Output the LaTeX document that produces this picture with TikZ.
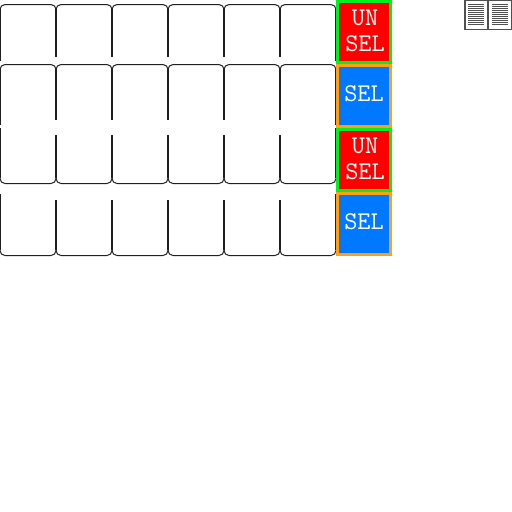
\documentclass[tikz,border=0pt]{standalone}
\definecolor{unselred}{RGB}{255,0,0}
\definecolor{unselgreen}{RGB}{0,240,30}
\definecolor{selblue}{RGB}{0,120,255}
\definecolor{selorange}{RGB}{255,160,20}
\definecolor{cellline}{RGB}{32,32,32}
\definecolor{bookgray}{RGB}{80,80,80}
\tikzset{
	unselcell/.style={draw=unselgreen, fill=unselred, line width=2.6pt, minimum width=53.4pt, minimum height=61.4pt, inner sep=0pt, outer sep=0pt},
	selcell/.style={unselcell, draw=selorange, fill=selblue},
	celltext/.style={text=white, align=center, inner sep=0pt, font=\ttfamily\fontsize{25.5}{26}\selectfont},
	cellarc/.style={draw=cellline, line width=1pt, rounded corners=5pt},
	cellside/.style={draw=cellline, line width=2pt},
	bookline/.style={draw=bookgray, line width=1pt}
}
\begin{document}
\begin{tikzpicture}[x=1pt, y=-1pt]
	
	% Page size
	\useasboundingbox (0,0) rectangle (512,512);
	
	% Arcs along top and bottom of the rows
	\foreach \x in {0,56,...,280} {
		\draw[cellarc] (\x,10) |- (\x+56,4.5) -- (\x+56,10);
		\draw[cellarc] (\x,70) |- (\x+56,64.5) -- (\x+56,70);
		\draw[cellarc] (\x,178) |- (\x+56,183.5) -- (\x+56,178);
		\draw[cellarc] (\x,250) |- (\x+56,255.5) -- (\x+56,250);
	}
	
	% Inner upright lines
	\foreach \x in {56,112,...,280} {
		\draw[cellside] (\x,9) -- (\x,57);
		\draw[cellside] (\x,69) -- (\x,120);
		\draw[cellside] (\x,135) -- (\x,178);
		\draw[cellside] (\x,200) -- (\x,250);
	}
	
	% Outer upright lines
	\foreach \x in {0,336} {
		\draw[cellside] (\x,9) -- (\x,61);
		\draw[cellside] (\x,69) -- (\x,125);
		\draw[cellside] (\x,128) -- (\x,178);
		\draw[cellside] (\x,194) -- (\x,250);
	}
	
	% Coloured column
	\node[unselcell] (unsel1) at (364,32) {};
	\node[selcell] (sel1) at (364,96) {};
	\node[unselcell] (unsel2) at (364,160) {};
	\node[selcell] (sel2) at (364,224) {};
	\node[celltext] (unsel1text) at (365,31) {UN\\SEL};
	\node[celltext] (sel1text) at (364,94) {SEL};
	\node[celltext] (unsel2text) at (365,159) {UN\\SEL};
	\node[celltext] (sel2text) at (364,222) {SEL};
	
	% Book icon
	\draw[draw=bookgray, line width=1pt] (464.5,0.5) rectangle (511.5,29.5);
	\draw[draw=bookgray, line width=2pt] (465,0) -- (465,30);
	\draw[draw=bookgray, line width=2pt] (488,0) -- (488,30);
	\foreach \y in {4.5,6.5,...,24.5} {
		\draw[bookline] (468,\y) -- (484,\y);
		\draw[bookline] (492,\y) -- (508,\y);
	}
	
\end{tikzpicture}
\end{document}
